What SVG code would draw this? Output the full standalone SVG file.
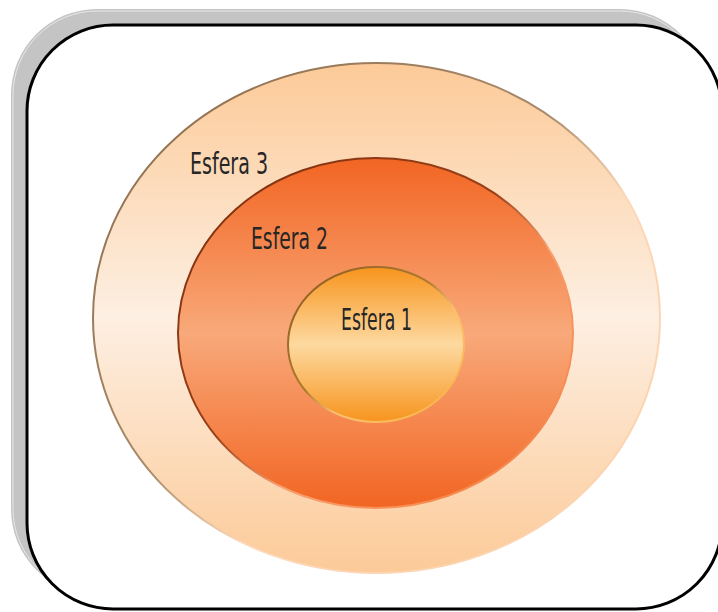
<svg xmlns="http://www.w3.org/2000/svg" width="718" height="612" viewBox="0 0 718 612">
<style>
.lbl{font-family:"DejaVu Sans Condensed","Liberation Sans",sans-serif;font-size:30px;fill:#262626;}
</style>
<defs>
<linearGradient id="g3" x1="0" y1="0" x2="0" y2="1">
<stop offset="0" stop-color="#fcca98"/>
<stop offset="0.5" stop-color="#fdefe2"/>
<stop offset="1" stop-color="#fcca98"/>
</linearGradient>
<linearGradient id="s3" x1="0" y1="0" x2="1" y2="1">
<stop offset="0" stop-color="#8a6a4a"/>
<stop offset="0.45" stop-color="#a88a6a"/>
<stop offset="0.6" stop-color="#fcd8b8"/>
<stop offset="1" stop-color="#fcd0a8"/>
</linearGradient>
<linearGradient id="g2" x1="0" y1="0" x2="0" y2="1">
<stop offset="0" stop-color="#f26522"/>
<stop offset="0.5" stop-color="#f8a97a"/>
<stop offset="1" stop-color="#f26522"/>
</linearGradient>
<linearGradient id="s2" x1="0" y1="0" x2="1" y2="1">
<stop offset="0" stop-color="#7a2e10"/>
<stop offset="0.45" stop-color="#9a4018"/>
<stop offset="0.6" stop-color="#f8a070"/>
<stop offset="1" stop-color="#f57a3a"/>
</linearGradient>
<linearGradient id="g1" x1="0" y1="0" x2="0" y2="1">
<stop offset="0" stop-color="#f7941d"/>
<stop offset="0.5" stop-color="#fdd9a0"/>
<stop offset="1" stop-color="#f7941d"/>
</linearGradient>
<linearGradient id="s1" x1="0" y1="0" x2="1" y2="1">
<stop offset="0" stop-color="#8a5a20"/>
<stop offset="0.45" stop-color="#b07a30"/>
<stop offset="0.6" stop-color="#fbc070"/>
<stop offset="1" stop-color="#f9b040"/>
</linearGradient>
</defs>
<g id="frame">
<rect x="11" y="9" width="695" height="586" rx="86" fill="#c4c4c4"/>
<rect x="13" y="11" width="691" height="582" rx="84" fill="none" stroke="#e8e8e8" stroke-width="1"/>
<rect x="27" y="25" width="695" height="584" rx="86" fill="#ffffff" stroke="#000000" stroke-width="3"/>
</g>
<g id="esfera3">
<ellipse cx="376.5" cy="318" rx="283.5" ry="255" fill="url(#g3)" stroke="url(#s3)" stroke-width="2"/>
<text class="lbl" x="190" y="174" textLength="78" lengthAdjust="spacingAndGlyphs">Esfera 3</text>
</g>
<g id="esfera2">
<ellipse cx="375.5" cy="333" rx="197.5" ry="175" fill="url(#g2)" stroke="url(#s2)" stroke-width="2"/>
<text class="lbl" x="251" y="249" textLength="77" lengthAdjust="spacingAndGlyphs">Esfera 2</text>
</g>
<g id="esfera1">
<ellipse cx="376" cy="344.5" rx="88" ry="77.5" fill="url(#g1)" stroke="url(#s1)" stroke-width="2"/>
<text class="lbl" x="341" y="330" textLength="71" lengthAdjust="spacingAndGlyphs">Esfera 1</text>
</g>
<g id="connectors"/>
</svg>
